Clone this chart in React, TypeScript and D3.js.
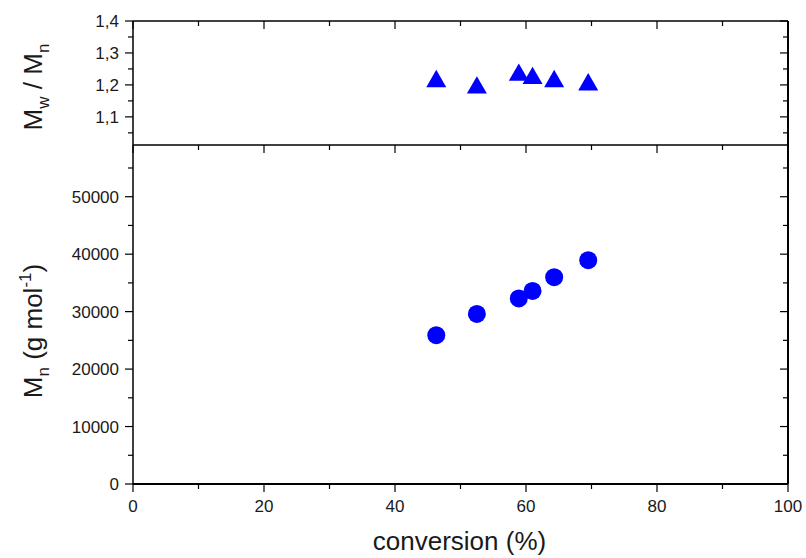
import React from "react";
import * as d3 from "d3";

const conversion = [46.3, 52.5, 58.9, 61.0, 64.3, 69.5];
const dispersity = [1.22, 1.2, 1.24, 1.23, 1.22, 1.21];
const molarMass = [25900, 29600, 32300, 33600, 36000, 38950];

const xMajorTicks = [0, 20, 40, 60, 80, 100];
const xMinorTicks = [10, 30, 50, 70, 90];
const topMajorTicks = [1.1, 1.2, 1.3, 1.4];
const topMinorTicks = [1.05, 1.15, 1.25, 1.35];
const botMajorTicks = [0, 10000, 20000, 30000, 40000, 50000];
const botMinorTicks = [5000, 15000, 25000, 35000, 45000, 55000];

const W = 806;
const H = 558;
const L = 133;
const R = 788;
const T = 21;
const S = 145;
const B = 484;
const FONT = "'Liberation Sans', Arial, sans-serif";
const TXT = "#1a1a1a";

export default function App() {
  const x = d3.scaleLinear().domain([0, 100]).range([L, R]);
  const yTop = d3.scaleLinear().domain([1.012, 1.4]).range([S, T]);
  const yBot = d3.scaleLinear().domain([0, 59000]).range([B, S]);

  const triSide = 20;
  const triH = triSide * Math.sqrt(3) / 2;
  const tri = d3.symbol(d3.symbolTriangle, (Math.sqrt(3) / 4) * triSide * triSide)();

  const comma = (v: number) => d3.format(".1f")(v).replace(".", ",");

  const major = 8;
  const minor = 5;

  return (
    <svg width={W} height={H} style={{ display: "block", position: "absolute", left: 0, top: 0 }}>
      <rect x={0} y={0} width={W} height={H} fill="#fff" />
      <g stroke="#000" fill="none">
        <line x1={L} x2={R} y1={T} y2={T} strokeWidth={1.5} />
        <line x1={L} x2={R} y1={S} y2={S} strokeWidth={1.5} />
        <line x1={L} x2={R} y1={B} y2={B} strokeWidth={2} />
        <line x1={L} x2={L} y1={T} y2={B} strokeWidth={1.5} />
        <line x1={R} x2={R} y1={T} y2={B} strokeWidth={2} />
      </g>
      <g stroke="#000" strokeWidth={1.2}>
        {xMajorTicks.map((t) => (
          <g key={"xm" + t}>
            <line x1={x(t)} x2={x(t)} y1={B} y2={B + major} />
            <line x1={x(t)} x2={x(t)} y1={T} y2={T + major} />
            <line x1={x(t)} x2={x(t)} y1={S} y2={S + major} />
          </g>
        ))}
        {xMinorTicks.map((t) => (
          <g key={"xn" + t}>
            <line x1={x(t)} x2={x(t)} y1={B} y2={B + minor} />
            <line x1={x(t)} x2={x(t)} y1={T} y2={T + minor} />
            <line x1={x(t)} x2={x(t)} y1={S} y2={S + minor} />
          </g>
        ))}
        {topMajorTicks.map((t) => (
          <g key={"tm" + t}>
            <line x1={L - major} x2={L} y1={yTop(t)} y2={yTop(t)} />
            <line x1={R - major} x2={R} y1={yTop(t)} y2={yTop(t)} />
          </g>
        ))}
        {topMinorTicks.map((t) => (
          <g key={"tn" + t}>
            <line x1={L - minor} x2={L} y1={yTop(t)} y2={yTop(t)} />
            <line x1={R - minor} x2={R} y1={yTop(t)} y2={yTop(t)} />
          </g>
        ))}
        {botMajorTicks.map((t) => (
          <g key={"bm" + t}>
            <line x1={L - major} x2={L} y1={yBot(t)} y2={yBot(t)} />
            <line x1={R - major} x2={R} y1={yBot(t)} y2={yBot(t)} />
          </g>
        ))}
        {botMinorTicks.map((t) => (
          <g key={"bn" + t}>
            <line x1={L - minor} x2={L} y1={yBot(t)} y2={yBot(t)} />
            <line x1={R - minor} x2={R} y1={yBot(t)} y2={yBot(t)} />
          </g>
        ))}
      </g>
      <g fontFamily={FONT} fontSize={17} fill={TXT}>
        {xMajorTicks.map((t) => (
          <text key={"xl" + t} x={x(t)} y={B + 28} textAnchor="middle">
            {t}
          </text>
        ))}
        {topMajorTicks.map((t) => (
          <text key={"tl" + t} x={L - 14} y={yTop(t) + 6} textAnchor="end">
            {comma(t)}
          </text>
        ))}
        {botMajorTicks.map((t) => (
          <text key={"bl" + t} x={L - 14} y={yBot(t) + 6} textAnchor="end">
            {t}
          </text>
        ))}
      </g>
      <g fontFamily={FONT} fill={TXT} fontSize={26}>
        <text x={(L + R) / 2 - 1} y={550} textAnchor="middle">
          conversion (%)
        </text>
        <text transform={`translate(42,${(T + S) / 2 + 4}) rotate(-90)`} textAnchor="middle">
          M<tspan fontSize={17} dy={7}>w</tspan>
          <tspan dy={-7}> / M</tspan>
          <tspan fontSize={17} dy={7}>n</tspan>
        </text>
        <text transform={`translate(42,${331}) rotate(-90)`} textAnchor="middle">
          M<tspan fontSize={17} dy={7}>n</tspan>
          <tspan dy={-7}> (g mol</tspan>
          <tspan fontSize={17} dy={-11}>-1</tspan>
          <tspan dy={11}>)</tspan>
        </text>
      </g>
      <g fill="#0000ff">
        {conversion.map((c, i) => (
          <path key={"t" + i} d={tri || ""} transform={`translate(${x(c)},${yTop(dispersity[i]) + triH / 6})`} />
        ))}
        {conversion.map((c, i) => (
          <circle key={"c" + i} cx={x(c)} cy={yBot(molarMass[i])} r={9} />
        ))}
      </g>
    </svg>
  );
}
